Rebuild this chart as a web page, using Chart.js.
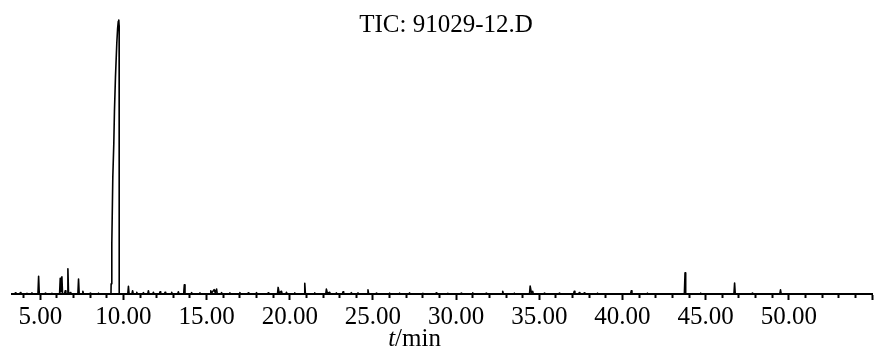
<!DOCTYPE html>
<html>
<head>
<meta charset="utf-8">
<script src="https://cdn.jsdelivr.net/npm/chart.js@4/dist/chart.umd.min.js"></script>
<style>
  html, body { margin: 0; padding: 0; background: #fff; }
  canvas { display: block; }
</style>
</head>
<body>
<canvas id="grafico" width="874" height="356"></canvas>
<script>
const ctx = document.getElementById('grafico');

const titulo = 'TIC: 91029-12.D';
const tickValues = [5, 10, 15, 20, 25, 30, 35, 40, 45, 50];
const tickLabels = ['5.00', '10.00', '15.00', '20.00', '25.00', '30.00', '35.00', '40.00', '45.00', '50.00'];

// retention time (min) and relative abundance (%), one row per peak
const times = [
  3.30,
  3.46, 3.50, 3.54,  3.76, 3.80, 3.84,  4.16, 4.20, 4.24,  4.46, 4.50, 4.54,
  4.86, 4.90, 4.94,
  5.26, 5.30, 5.34,  5.66, 5.70, 5.74,
  6.16, 6.20, 6.24, 6.30, 6.34,
  6.46, 6.50, 6.54,
  6.62, 6.66, 6.70,
  6.76, 6.80, 6.84,
  7.26, 7.30, 7.34,
  7.52, 7.56, 7.60,
  7.96, 8.00, 8.04,  8.46, 8.50, 8.54,
  9.25, 9.26, 9.30, 9.36, 9.42, 9.46, 9.52, 9.60, 9.65, 9.69, 9.72, 9.74, 9.745,
  10.26, 10.30, 10.34,
  10.51, 10.55, 10.59,  10.76, 10.80, 10.84,  11.16, 11.20, 11.24,
  11.46, 11.50, 11.54,  11.76, 11.80, 11.84,  12.16, 12.20, 12.24,
  12.46, 12.50, 12.54,  12.86, 12.90, 12.94,  13.26, 13.30, 13.34,
  13.62, 13.66, 13.70,
  14.06, 14.10, 14.14,  14.56, 14.60, 14.64,
  15.21, 15.25, 15.30, 15.45, 15.52, 15.60, 15.64,
  15.86, 15.90, 15.94,  16.36, 16.40, 16.44,  16.96, 17.00, 17.04,
  17.46, 17.50, 17.54,  17.96, 18.00, 18.04,  18.66, 18.70, 18.74,
  19.26, 19.30, 19.36, 19.50, 19.54,
  19.76, 19.80, 19.84,  20.26, 20.30, 20.34,
  20.86, 20.90, 20.94,
  21.46, 21.50, 21.54,
  22.16, 22.20, 22.26, 22.40, 22.44,
  22.76, 22.80, 22.84,  23.16, 23.20, 23.24,  23.66, 23.70, 23.74,  24.06, 24.10, 24.14,
  24.66, 24.70, 24.74,
  25.16, 25.20, 25.24,  25.96, 26.00, 26.04,  26.56, 26.60, 26.64,  27.16, 27.20, 27.24,
  27.96, 28.00, 28.04,  28.76, 28.80, 28.84,  29.46, 29.50, 29.54,  30.26, 30.30, 30.34,
  30.96, 31.00, 31.04,  31.76, 31.80, 31.84,
  32.76, 32.80, 32.84,
  33.46, 33.50, 33.54,
  34.41, 34.45, 34.52, 34.60, 34.64,
  35.26, 35.30, 35.34,  36.16, 36.20, 36.24,
  37.06, 37.10, 37.14,  37.36, 37.40, 37.44,  37.66, 37.70, 37.74,  38.46, 38.50, 38.54,
  40.49, 40.53, 40.57,
  41.46, 41.50, 41.54,
  43.72, 43.76, 43.80,
  44.66, 44.70, 44.74,
  46.70, 46.74, 46.78,
  47.76, 47.80, 47.84,
  49.46, 49.50, 49.54,
  55.00
];
const tic = [
  0,
  0, 0.4, 0,  0, 0.5, 0,  0, 0.3, 0,  0, 0.4, 0,
  0, 6.5, 0,
  0, 0.3, 0,  0, 0.3, 0,
  0, 5.7, 0.8, 6.3, 0,
  0, 1.2, 0,
  0, 9.2, 0,
  0, 0.5, 0,
  0, 5.5, 0,
  0, 1.0, 0,
  0, 0.3, 0,  0, 0.3, 0,
  0, 3.7, 18.3, 42.6, 54.9, 67, 79.2, 91.5, 97, 99.5, 100, 98, 0,
  0, 2.8, 0,
  0, 1.2, 0,  0, 0.6, 0,  0, 0.5, 0,
  0, 1.2, 0,  0, 0.6, 0,  0, 0.8, 0,
  0, 0.6, 0,  0, 0.6, 0,  0, 0.8, 0,
  0, 3.4, 0,
  0, 0.5, 0,  0, 0.4, 0,
  0, 1.2, 0.4, 1.6, 0.5, 1.8, 0,
  0, 0.5, 0,  0, 0.4, 0,  0, 0.5, 0,
  0, 0.4, 0,  0, 0.5, 0,  0, 0.4, 0,
  0, 2.4, 0.4, 1.0, 0,
  0, 0.6, 0,  0, 0.4, 0,
  0, 3.9, 0,
  0, 0.4, 0,
  0, 1.8, 0.3, 0.6, 0,
  0, 0.4, 0,  0, 0.8, 0,  0, 0.5, 0,  0, 0.4, 0,
  0, 1.5, 0,
  0, 0.3, 0,  0, 0.3, 0,  0, 0.3, 0,  0, 0.4, 0,
  0, 0.3, 0,  0, 0.4, 0,  0, 0.3, 0,  0, 0.3, 0,
  0, 0.4, 0,  0, 0.3, 0,
  0, 1.0, 0,
  0, 0.3, 0,
  0, 2.9, 0.6, 1.0, 0,
  0, 0.3, 0,  0, 0.3, 0,
  0, 1.0, 0,  0, 0.5, 0,  0, 0.4, 0,  0, 0.3, 0,
  0, 1.2, 0,
  0, 0.3, 0,
  0, 7.7, 0,
  0, 0.3, 0,
  0, 4.0, 0,
  0, 0.3, 0,
  0, 1.5, 0,
  0
];

const fonte = 'Liberation Serif';

// title and the "t/min" label (italic t) drawn on the canvas
const textos = {
  id: 'textos',
  afterDraw(chart) {
    const c = chart.ctx;
    const x = chart.scales.x;
    c.save();
    c.fillStyle = '#000';
    c.textBaseline = 'alphabetic';
    c.textAlign = 'center';
    c.font = `25px "${fonte}"`;
    c.fillText(titulo, 446, 32);

    c.textAlign = 'left';
    c.font = `italic 25px "${fonte}"`;
    const wT = c.measureText('t').width;
    c.font = `25px "${fonte}"`;
    const wResto = c.measureText('/min').width;
    const centro = (x.getPixelForValue(5) + x.getPixelForValue(50)) / 2;
    const inicio = centro - (wT + wResto) / 2;
    c.font = `italic 25px "${fonte}"`;
    c.fillText('t', inicio, 346);
    c.font = `25px "${fonte}"`;
    c.fillText('/min', inicio + wT, 346);
    c.restore();
  }
};

new Chart(ctx, {
  type: 'line',
  data: {
    datasets: [{
      data: times.map((t, i) => ({ x: t, y: tic[i] })),
      borderColor: '#000',
      borderWidth: 1.6,
      borderJoinStyle: 'round',
      pointRadius: 0,
      tension: 0,
      fill: false
    }]
  },
  options: {
    responsive: false,
    animation: false,
    layout: { padding: { left: 12, right: 0, top: 0, bottom: 22 } },
    plugins: {
      legend: { display: false },
      tooltip: { enabled: false },
      title: { display: false }
    },
    scales: {
      x: {
        type: 'linear',
        min: 3.3,
        max: 55.02,
        border: { display: true, color: '#000', width: 2 },
        grid: {
          drawOnChartArea: false,
          color: '#000',
          tickColor: '#000',
          tickLength: 6,
          tickWidth: 2,
          tickBorderDash: (c) => (c.tick && c.tick.value % 5 === 0) ? [] : [3, 20]
        },
        ticks: {
          stepSize: 1,
          autoSkip: false,
          maxRotation: 0,
          includeBounds: false,
          padding: 2,
          color: '#000',
          font: { family: fonte, size: 25 },
          callback: (v) => {
            const i = tickValues.indexOf(v);
            return i >= 0 ? tickLabels[i] : '';
          }
        }
      },
      y: { display: false, min: 0, max: 107.3 }
    }
  },
  plugins: [textos]
});
</script>
</body>
</html>
